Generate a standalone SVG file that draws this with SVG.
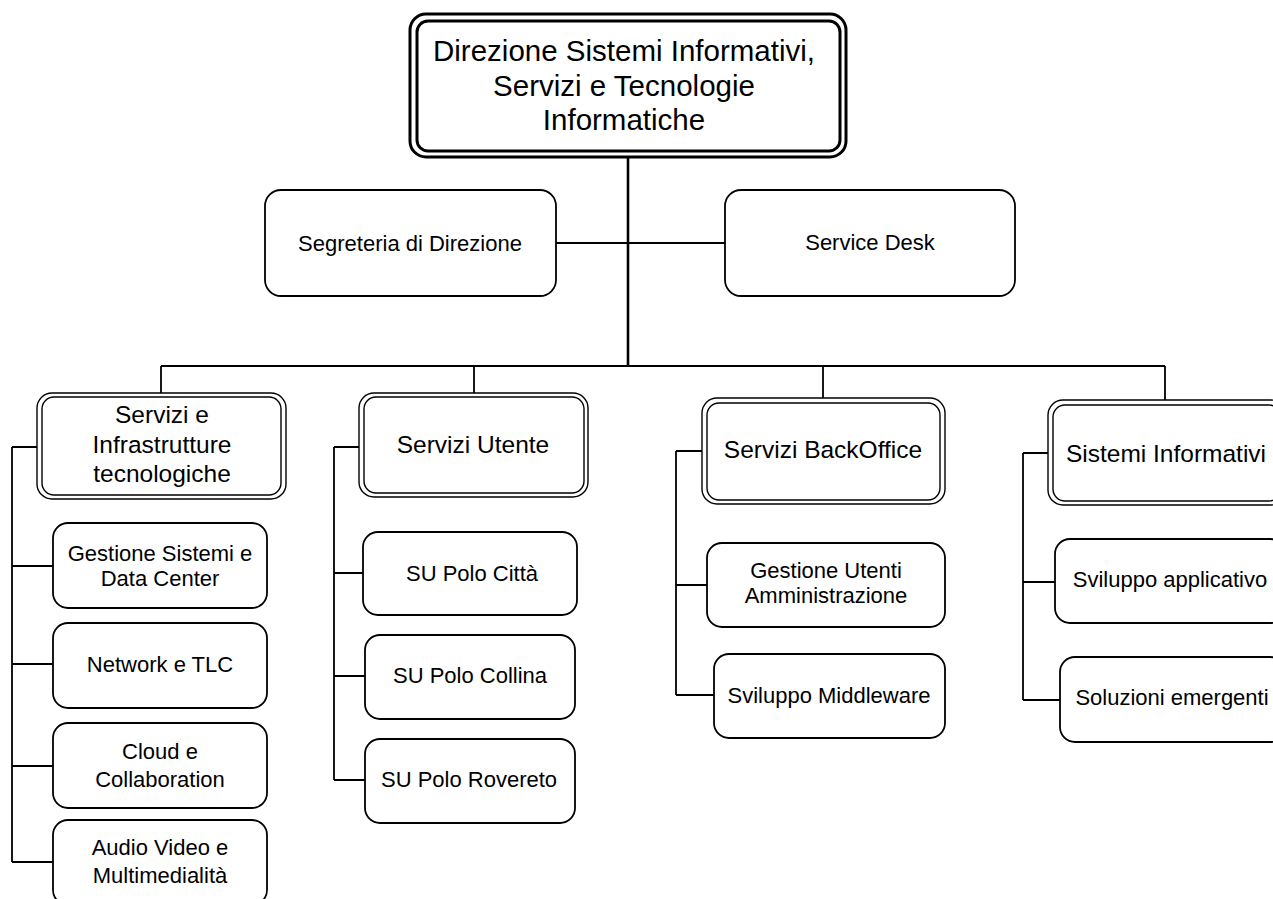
<svg xmlns="http://www.w3.org/2000/svg" width="1273" height="899" viewBox="0 0 1273 899">
<style>
.bg{fill:#fff}
.b{fill:#fff;stroke:#000;stroke-width:1.8}
.d{fill:none;stroke:#000;stroke-width:1.4}
.t{fill:none;stroke:#000;stroke-width:3}
.c{fill:none;stroke:#000;stroke-width:1.8}
.m{fill:none;stroke:#000;stroke-width:2.6}
text{font-family:"Liberation Sans",Arial,sans-serif;fill:#000;text-anchor:middle}
.f1{font-size:29.5px}
.f2{font-size:24.5px}
.f3{font-size:22px}
</style>
<rect class="bg" x="0" y="0" width="1273" height="899"/>
<g id="connectors">
<path class="m" d="M628,157 V366"/>
<path class="c" d="M556,243 H725"/>
<path class="c" d="M161,366 H1165 M161,366 V393 M474,366 V393 M823,366 V398 M1165,366 V400"/>
<path class="c" d="M12,447 H37 M12,447 V862 M12,566 H53 M12,664 H53 M12,766 H53 M12,862 H53"/>
<path class="c" d="M334,447 H359 M334,447 V780 M334,573 H363 M334,676 H365 M334,780 H365"/>
<path class="c" d="M676,451 H702 M676,451 V695 M676,585 H707 M676,695 H714"/>
<path class="c" d="M1023,453 H1048 M1023,453 V700 M1023,582 H1055 M1023,700 H1060"/>
</g>
<g id="n-direzione">
<rect class="t" x="410" y="14" width="436" height="143" rx="16"/>
<rect class="t" x="417" y="21" width="423" height="130" rx="11"/>
<text class="f1" x="624" y="61">Direzione Sistemi Informativi,</text>
<text class="f1" x="624" y="96">Servizi e Tecnologie</text>
<text class="f1" x="624" y="130">Informatiche</text>
</g>
<g id="n-segreteria">
<rect class="b" x="265" y="190" width="291" height="106" rx="16"/>
<text class="f3" x="410" y="251">Segreteria di Direzione</text>
</g>
<g id="n-servicedesk">
<rect class="b" x="725" y="190" width="290" height="106" rx="16"/>
<text class="f3" x="870" y="250">Service Desk</text>
</g>
<g id="n-infrastrutture">
<rect class="d" x="37" y="393" width="249" height="106" rx="15"/>
<rect class="d" x="42" y="397" width="239" height="98" rx="12"/>
<text class="f2" x="162" y="423">Servizi e</text>
<text class="f2" x="162" y="453">Infrastrutture</text>
<text class="f2" x="162" y="482">tecnologiche</text>
</g>
<g id="n-gestionesistemi">
<rect class="b" x="53" y="523" width="214" height="85" rx="15"/>
<text class="f3" x="160" y="561">Gestione Sistemi e</text>
<text class="f3" x="160" y="586">Data Center</text>
</g>
<g id="n-network">
<rect class="b" x="53" y="623" width="214" height="85" rx="15"/>
<text class="f3" x="160" y="672">Network e TLC</text>
</g>
<g id="n-cloud">
<rect class="b" x="53" y="723" width="214" height="85" rx="15"/>
<text class="f3" x="160" y="759">Cloud e</text>
<text class="f3" x="160" y="787">Collaboration</text>
</g>
<g id="n-audio">
<rect class="b" x="53" y="820" width="214" height="85" rx="15"/>
<text class="f3" x="160" y="855">Audio Video e</text>
<text class="f3" x="160" y="883">Multimedialità</text>
</g>
<g id="n-serviziutente">
<rect class="d" x="359" y="393" width="229" height="104" rx="15"/>
<rect class="d" x="364" y="397" width="220" height="96" rx="12"/>
<text class="f2" x="473" y="453">Servizi Utente</text>
</g>
<g id="n-citta">
<rect class="b" x="363" y="532" width="214" height="83" rx="15"/>
<text class="f3" x="472" y="581">SU Polo Città</text>
</g>
<g id="n-collina">
<rect class="b" x="365" y="635" width="210" height="84" rx="15"/>
<text class="f3" x="470" y="683">SU Polo Collina</text>
</g>
<g id="n-rovereto">
<rect class="b" x="365" y="739" width="210" height="84" rx="15"/>
<text class="f3" x="469" y="787">SU Polo Rovereto</text>
</g>
<g id="n-backoffice">
<rect class="d" x="702" y="398" width="243" height="106" rx="15"/>
<rect class="d" x="707" y="403" width="233" height="97" rx="12"/>
<text class="f2" x="823" y="458">Servizi BackOffice</text>
</g>
<g id="n-gestioneutenti">
<rect class="b" x="707" y="543" width="238" height="84" rx="15"/>
<text class="f3" x="826" y="578">Gestione Utenti</text>
<text class="f3" x="826" y="603">Amministrazione</text>
</g>
<g id="n-middleware">
<rect class="b" x="714" y="654" width="231" height="84" rx="15"/>
<text class="f3" x="829" y="703">Sviluppo Middleware</text>
</g>
<g id="n-sistemiinformativi">
<rect class="d" x="1048" y="400" width="238" height="105" rx="15"/>
<rect class="d" x="1053" y="405" width="228" height="96" rx="12"/>
<text class="f2" x="1166" y="462">Sistemi Informativi</text>
</g>
<g id="n-sviluppoapplicativo">
<rect class="b" x="1055" y="539" width="230" height="84" rx="15"/>
<text class="f3" x="1170" y="587">Sviluppo applicativo</text>
</g>
<g id="n-soluzioni">
<rect class="b" x="1060" y="657" width="225" height="85" rx="15"/>
<text class="f3" x="1172" y="705">Soluzioni emergenti</text>
</g>
</svg>
